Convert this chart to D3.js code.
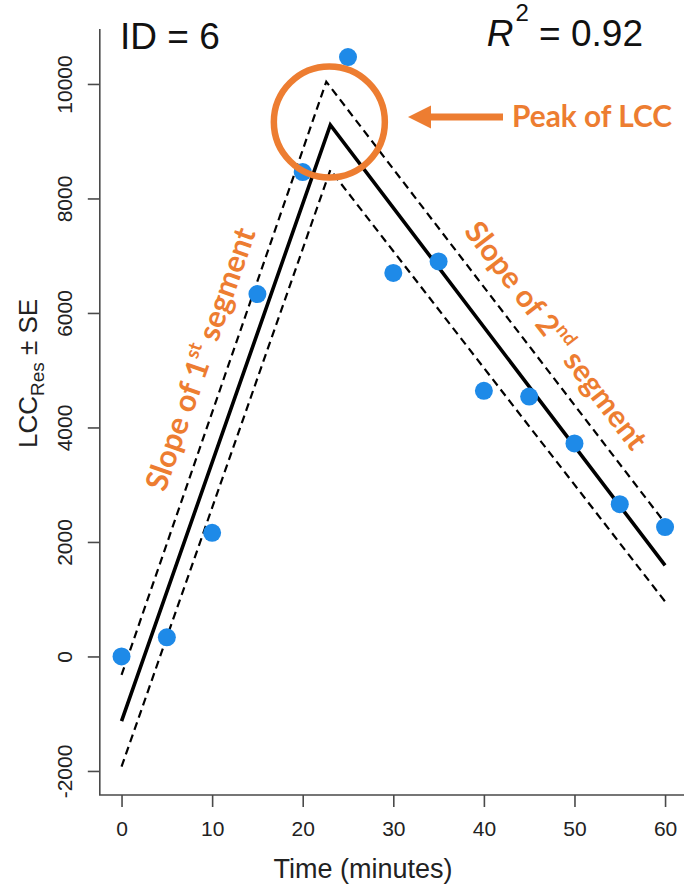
<!DOCTYPE html>
<html>
<head>
<meta charset="utf-8">
<script src="https://cdn.jsdelivr.net/npm/d3@7"></script>
<style>
  body { margin: 0; background: #fff; }
  svg { display: block; }
</style>
</head>
<body>
<svg id="chart" width="684" height="890"></svg>
<script>
// Observed LCC residual values over time
const timeMin = [0, 5, 10, 15, 20, 25, 30, 35, 40, 45, 50, 55, 60];
const lccRes  = [0, 335, 2160, 6330, 8460, 10470, 6700, 6900, 4640, 4540, 3720, 2660, 2260];

// Two-segment fit (breakpoint at the peak) and its ± SE envelope
const fitTime   = [0, 23.05, 60];
const fitValue  = [-1130, 9284, 1590];
const upperTime = [0, 22.6, 60];
const upperValue = [-323, 10040, 2330];
const lowerTime = [0, 23.05, 60];
const lowerValue = [-1925, 8498, 960];

// Axis ticks
const xTicks = [0, 10, 20, 30, 40, 50, 60];
const yTicks = [-2000, 0, 2000, 4000, 6000, 8000, 10000];

const idLabel = "ID = 6";
const r2Value = "0.92";

const svg = d3.select("#chart");
const axisFont = "'Liberation Sans', Arial, Helvetica, sans-serif";
const noteFont = "Lato, 'Open Sans', sans-serif";
const orange = "#ED7D31";
const blue = "#1E8AE8";
const axisColor = "#4a4a4a";

const x = d3.scaleLinear().domain([-2.4, 62.4]).range([99.8, 686.8]);
const y = d3.scaleLinear().domain([-2420, 10960]).range([795, 29]);

// L-shaped frame
svg.append("path")
  .attr("d", `M${x.range()[0]},${y.range()[1]}V${y.range()[0]}H${x.range()[1]}`)
  .attr("fill", "none").attr("stroke", axisColor).attr("stroke-width", 1.6);

// x axis
const gx = svg.append("g")
  .attr("transform", `translate(0,${y.range()[0]})`)
  .call(d3.axisBottom(x).tickValues(xTicks).tickFormat(d => String(d)).tickSize(12));
gx.select(".domain").remove();
gx.selectAll(".tick line").attr("stroke", axisColor).attr("stroke-width", 1.6);
gx.selectAll(".tick text")
  .attr("font-family", axisFont).attr("font-size", 21).attr("fill", "#222")
  .attr("dy", 0).attr("y", 41);

// y axis with rotated tick labels
const gy = svg.append("g")
  .attr("transform", `translate(${x.range()[0]},0)`)
  .call(d3.axisLeft(y).tickValues(yTicks).tickFormat(d => String(d)).tickSize(12));
gy.select(".domain").remove();
gy.selectAll(".tick line").attr("stroke", axisColor).attr("stroke-width", 1.6);
gy.selectAll(".tick text")
  .attr("font-family", axisFont).attr("font-size", 21).attr("fill", "#222")
  .attr("x", null).attr("dy", null)
  .attr("text-anchor", "middle")
  .attr("transform", "translate(-28,0) rotate(-90)");

// Axis titles
svg.append("text")
  .attr("x", 363).attr("y", 878)
  .attr("text-anchor", "middle")
  .attr("font-family", axisFont).attr("font-size", 27).attr("fill", "#222")
  .text("Time (minutes)");

const yTitle = svg.append("text")
  .attr("transform", "translate(37,448) rotate(-90)")
  .attr("text-anchor", "start")
  .attr("font-family", axisFont).attr("font-size", 26).attr("fill", "#222");
yTitle.append("tspan").text("LCC");
yTitle.append("tspan").attr("font-size", 19).attr("dy", 7).text("Res");
yTitle.append("tspan").attr("dy", -7).text(" \u00B1 SE");

// Fitted segments and SE envelope
const line = d3.line().x(d => x(d[0])).y(d => y(d[1]));
const envelope = [
  d3.zip(upperTime, upperValue),
  d3.zip(lowerTime, lowerValue)
];
svg.append("g").selectAll("path").data(envelope).join("path")
  .attr("d", line)
  .attr("fill", "none").attr("stroke", "#000")
  .attr("stroke-width", 2.2).attr("stroke-dasharray", "8,5");

svg.append("path")
  .attr("d", line(d3.zip(fitTime, fitValue)))
  .attr("fill", "none").attr("stroke", "#000")
  .attr("stroke-width", 3.6).attr("stroke-linejoin", "miter");

// Observations
svg.append("g").selectAll("circle").data(d3.zip(timeMin, lccRes)).join("circle")
  .attr("cx", d => x(d[0])).attr("cy", d => y(d[1]))
  .attr("r", 9).attr("fill", blue);

// Corner labels
svg.append("text")
  .attr("x", 120).attr("y", 49)
  .attr("font-family", axisFont).attr("font-size", 37).attr("fill", "#111")
  .text(idLabel);

const r2 = svg.append("text")
  .attr("x", 643).attr("y", 46)
  .attr("text-anchor", "end")
  .attr("font-family", axisFont).attr("font-size", 37).attr("fill", "#111");
r2.append("tspan").attr("font-style", "italic").text("R");
r2.append("tspan").attr("font-size", 24).attr("dx", 2).attr("dy", -25).text("2");
r2.append("tspan").attr("dy", 25).text(" = " + r2Value);

// Annotations: peak circle and arrow
const peakX = x(fitTime[1]) - 1, peakY = y(fitValue[1]) - 3;
svg.append("circle")
  .attr("cx", peakX).attr("cy", peakY).attr("r", 55.5)
  .attr("fill", "none").attr("stroke", orange).attr("stroke-width", 6.5);

svg.append("line")
  .attr("x1", 428).attr("x2", 503).attr("y1", 117).attr("y2", 117)
  .attr("stroke", orange).attr("stroke-width", 7);
svg.append("path")
  .attr("d", "M408,117L431,105.5L431,128.5Z")
  .attr("fill", orange);

// Scale a label's font so its run spans the given length
function fitText(sel, target) {
  const base = parseFloat(sel.attr("font-size"));
  const len = sel.node().getComputedTextLength();
  sel.attr("font-size", (base * target / len).toFixed(2));
}

const peakLabel = svg.append("text")
  .attr("x", 512).attr("y", 127)
  .attr("font-family", noteFont).attr("font-weight", 700)
  .attr("font-size", 30).attr("fill", orange)
  .text("Peak of LCC");
fitText(peakLabel, 160);

function slopeLabel(cx, cy, angle, ordinal, suffix, target) {
  const t = svg.append("text")
    .attr("transform", `translate(${cx},${cy}) rotate(${angle})`)
    .attr("text-anchor", "middle").attr("dominant-baseline", "middle")
    .attr("font-family", noteFont).attr("font-weight", 700)
    .attr("font-size", 27).attr("fill", orange);
  t.append("tspan").text("Slope of " + ordinal);
  t.append("tspan").attr("font-size", "0.62em").attr("dy", "-0.55em").text(suffix);
  t.append("tspan").attr("dy", "0.34em").text(" segment");
  fitText(t, target);
  return t;
}
slopeLabel(203, 360, -70.7, "1", "st", 276);
slopeLabel(554, 337, 52.6, "2", "nd", 278);
</script>
</body>
</html>
